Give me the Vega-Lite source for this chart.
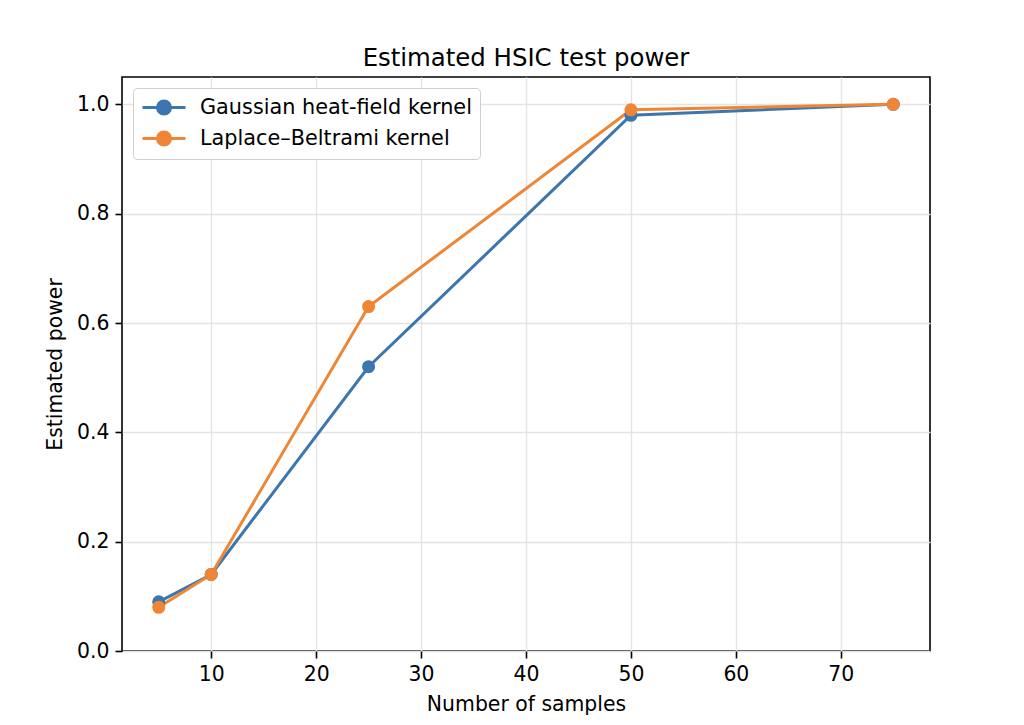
{
  "$schema": "https://vega.github.io/schema/vega-lite/v6.json",
  "autosize": {"type": "none"},
  "padding": {"left": 122, "top": 77, "right": 94, "bottom": 74},
  "width": 808,
  "height": 574,
  "background": "white",
  "title": {
    "text": "Estimated HSIC test power",
    "font": "DejaVu Sans",
    "fontSize": 24.4,
    "fontWeight": "normal",
    "color": "black",
    "offset": 6
  },
  "config": {
    "view": {"stroke": "black", "strokeWidth": 1.6},
    "axis": {
      "labelFont": "DejaVu Sans",
      "titleFont": "DejaVu Sans",
      "labelFontSize": 20.4,
      "titleFontSize": 20.4,
      "titleFontWeight": "normal",
      "labelColor": "black",
      "titleColor": "black",
      "tickColor": "black",
      "tickSize": 7,
      "tickWidth": 1.6,
      "domain": false,
      "gridColor": "#e4e4e4",
      "gridWidth": 1.4
    }
  },
  "data": {
    "values": [
      {"n": 5, "power": 0.09, "kernel": "Gaussian heat-field kernel"},
      {"n": 10, "power": 0.14, "kernel": "Gaussian heat-field kernel"},
      {"n": 25, "power": 0.52, "kernel": "Gaussian heat-field kernel"},
      {"n": 50, "power": 0.98, "kernel": "Gaussian heat-field kernel"},
      {"n": 75, "power": 1.0, "kernel": "Gaussian heat-field kernel"},
      {"n": 5, "power": 0.08, "kernel": "Laplace–Beltrami kernel"},
      {"n": 10, "power": 0.14, "kernel": "Laplace–Beltrami kernel"},
      {"n": 25, "power": 0.63, "kernel": "Laplace–Beltrami kernel"},
      {"n": 50, "power": 0.99, "kernel": "Laplace–Beltrami kernel"},
      {"n": 75, "power": 1.0, "kernel": "Laplace–Beltrami kernel"}
    ]
  },
  "mark": {
    "type": "line",
    "strokeWidth": 3,
    "point": {"filled": true, "size": 170, "opacity": 1}
  },
  "encoding": {
    "x": {
      "field": "n",
      "type": "quantitative",
      "title": "Number of samples",
      "scale": {"domain": [1.5, 78.5], "nice": false, "zero": false},
      "axis": {"values": [10, 20, 30, 40, 50, 60, 70], "titlePadding": 10, "labelPadding": 6}
    },
    "y": {
      "field": "power",
      "type": "quantitative",
      "title": "Estimated power",
      "scale": {"domain": [0, 1.05], "nice": false},
      "axis": {"values": [0, 0.2, 0.4, 0.6, 0.8, 1.0], "format": ".1f", "titlePadding": 11, "labelPadding": 6}
    },
    "color": {
      "field": "kernel",
      "type": "nominal",
      "title": null,
      "scale": {
        "domain": ["Gaussian heat-field kernel", "Laplace–Beltrami kernel"],
        "range": ["#3C76AF", "#EE8635"]
      },
      "legend": {
        "orient": "none",
        "legendX": 11,
        "legendY": 11,
        "fillColor": "white",
        "strokeColor": "#cfcfcf",
        "cornerRadius": 4,
        "padding": 8,
        "labelFont": "DejaVu Sans",
        "labelFontSize": 20.8,
        "labelColor": "black",
        "labelLimit": 500,
        "labelOffset": 36,
        "rowPadding": 6,
        "symbolType": "M-1,0L3.3,0M1.8,0A0.65,0.65,0,1,1,0.5,0A0.65,0.65,0,1,1,1.8,0Z",
        "symbolSize": 400,
        "symbolStrokeWidth": 3,
        "encode": {
          "symbols": {
            "update": {
              "fill": {"scale": "color", "field": "value"},
              "fillOpacity": {"value": 1},
              "stroke": {"scale": "color", "field": "value"}
            }
          }
        }
      }
    }
  }
}
